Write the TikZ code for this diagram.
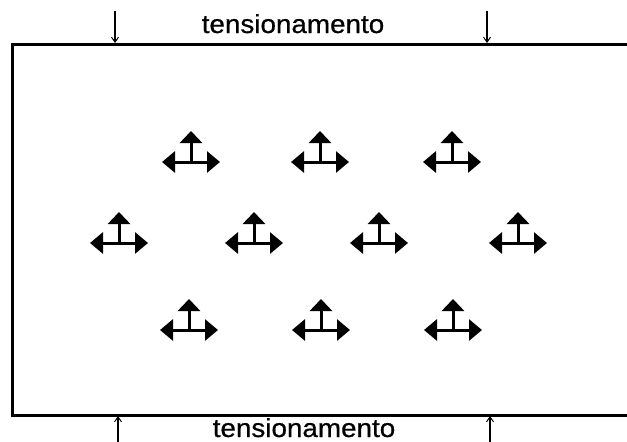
\documentclass[tikz,border=0pt]{standalone}
\usepackage{fontspec}
\setmainfont{Liberation Sans}
\newfontfamily\lblfont[FakeBold=0.6]{Liberation Sans}
\usetikzlibrary{arrows.meta}
\tikzset{
  plate/.style={line width=3pt, line cap=rect},
  pull/.style={line width=1.3pt, -{Straight Barb[length=5pt,width=7pt,line width=1pt]}},
  lbl/.style={font=\lblfont\fontsize{26}{30}\selectfont, inner sep=0pt, anchor=base},
  sym/.pic={
    \draw[line width=3pt, {Triangle[length=13pt,width=21pt]}-{Triangle[length=13pt,width=21pt]}] (-29,0) -- (29,0);
    \draw[line width=3pt, -{Triangle[length=12pt,width=22pt]}] (0,0) -- (0,-31);
  }
}
\begin{document}
\begin{tikzpicture}[x=1pt,y=-1pt]
\useasboundingbox (0,0) rectangle (627,442);
% plate (right edge outside the picture)
\draw[plate] (640,44) -- (12,44) -- (12,415) -- (640,415);
% labels
\node[lbl] (ttop) at (293,33) {\scalebox{1.07}[1]{tensionamento}};
\node[lbl] (tbot) at (304,437) {\scalebox{1.07}[1]{tensionamento}};
% tension arrows
\coordinate (a1s) at (115,11); \coordinate (a1e) at (115,43);
\coordinate (a2s) at (487,11); \coordinate (a2e) at (487,43);
\coordinate (b1s) at (118,446); \coordinate (b1e) at (118,416);
\coordinate (b2s) at (490,446); \coordinate (b2e) at (490,416);
\draw[pull] (a1s) -- (a1e);
\draw[pull] (a2s) -- (a2e);
\draw[pull] (b1s) -- (b1e);
\draw[pull] (b2s) -- (b2e);
% symbols
\pic at (191,162) {sym};
\pic at (320,162) {sym};
\pic at (452,162) {sym};
\pic at (119,243) {sym};
\pic at (254,243) {sym};
\pic at (379,243) {sym};
\pic at (518,243) {sym};
\pic at (189,330) {sym};
\pic at (321,330) {sym};
\pic at (453,330) {sym};
\end{tikzpicture}
\end{document}
